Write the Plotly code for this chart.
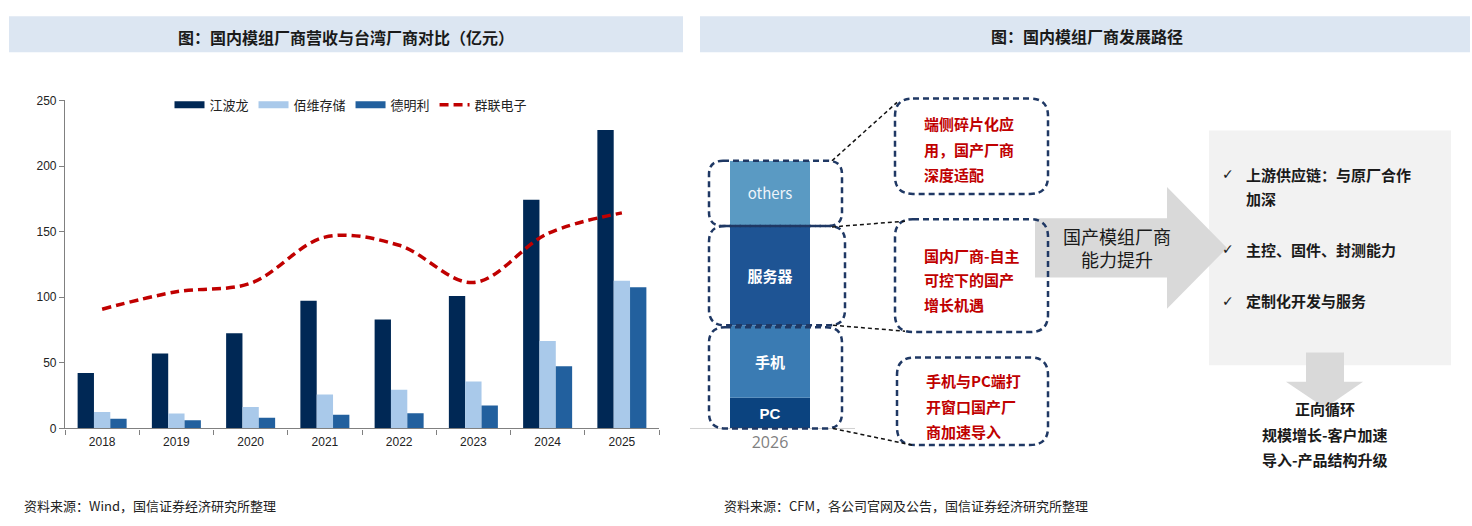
import plotly.graph_objects as go

# ---- data: left chart (亿元) ----
years = ["2018", "2019", "2020", "2021", "2022", "2023", "2024", "2025"]
jiangbolong = [42.2, 57.1, 72.6, 97.3, 83.0, 101.0, 174.4, 227.5]
baiwei = [12.6, 11.4, 16.3, 25.9, 29.6, 35.8, 66.7, 112.6]
demingli = [7.4, 6.2, 8.2, 10.4, 11.6, 17.5, 47.4, 107.7]
qunlian = [90.9, 104.2, 110.7, 145.8, 139.6, 111.2, 148.5, 164.3]

# ---- data: right diagram, 2026 mix (share, %) ----
mix_year = ["2026"]
mix_segments = ["PC", "手机", "服务器", "others"]
mix_share = [11.5, 27.0, 37.5, 24.0]

box_texts = [
    ["端侧碎片化应", "用，国产厂商", "深度适配"],
    ["国内厂商-自主", "可控下的国产", "增长机遇"],
    ["手机与PC端打", "开窗口国产厂", "商加速导入"],
]
checks = [("上游供应链：与原厂合作", True), ("加深", False),
          ("主控、固件、封测能力", True), ("定制化开发与服务", True)]
cycle_lines = ["正向循环", "规模增长-客户加速", "导入-产品结构升级"]

W, H = 1472, 526
CJK = "Noto Sans CJK SC"
NARROW = "Liberation Sans Narrow, Liberation Sans, sans-serif"


def px(x):
    return x / W


def py(y):
    return 1 - y / H


def rrect(x0, y0, x1, y1, r):
    pts = [
        ("M", [(x0 + r, y0)]), ("L", [(x1 - r, y0)]), ("Q", [(x1, y0), (x1, y0 + r)]),
        ("L", [(x1, y1 - r)]), ("Q", [(x1, y1), (x1 - r, y1)]), ("L", [(x0 + r, y1)]),
        ("Q", [(x0, y1), (x0, y1 - r)]), ("L", [(x0, y0 + r)]), ("Q", [(x0, y0), (x0 + r, y0)]),
    ]
    s = ""
    for cmd, ps in pts:
        s += cmd + " " + " ".join(f"{px(a):.5f},{py(b):.5f}" for a, b in ps) + " "
    return s + "Z"


def poly(points):
    return "M " + " L ".join(f"{px(a):.5f},{py(b):.5f}" for a, b in points) + " Z"


fig = go.Figure()

bar_specs = [
    ("江波龙", jiangbolong, "#002855", -0.33),
    ("佰维存储", baiwei, "#A9C9EA", -0.11),
    ("德明利", demingli, "#22609E", 0.11),
]
for name, vals, color, off in bar_specs:
    fig.add_trace(go.Bar(
        x=years, y=vals, name=name, marker=dict(color=color, line=dict(width=0)),
        width=0.22, offset=off, showlegend=False, legendgroup=name,
    ))
    # wide flat swatch for the legend, like the source
    fig.add_trace(go.Scatter(
        x=[None], y=[None], name=name, mode="lines", legendgroup=name,
        line=dict(color=color, width=7),
    ))

fig.add_trace(go.Scatter(
    x=years, y=qunlian, name="群联电子", mode="lines",
    line=dict(color="#C00000", width=3.5, dash="9px,5px", shape="spline", smoothing=1.0),
))

# 2026 stacked mix bar
mix_colors = ["#0B437F", "#3A7BB3", "#1E5494", "#5A9AC3"]
base = 0
for seg, val, col in zip(mix_segments, mix_share, mix_colors):
    is_cn = seg != "others"
    fig.add_trace(go.Bar(
        x=mix_year, y=[val], base=[base], xaxis="x2", yaxis="y2", showlegend=False,
        marker=dict(color=col, line=dict(width=0)), width=1, offset=-0.5,
        text=[f"<b>{seg}</b>" if is_cn else seg], textposition="inside",
        insidetextanchor="middle", textangle=0,
        insidetextfont=dict(color="white" if is_cn else "#EEF4FA", size=15,
                            family=CJK if seg != "PC" else "Liberation Sans, sans-serif"),
        hoverinfo="skip",
    ))
    base += val

shapes = []
# header bands
shapes.append(dict(type="rect", xref="paper", yref="paper", x0=px(9), x1=px(683),
                   y0=py(46.5), y1=py(9.5), fillcolor="#DCE6F2", line=dict(width=0), layer="below"))
shapes.append(dict(type="rect", xref="paper", yref="paper", x0=px(700), x1=px(1470),
                   y0=py(46.5), y1=py(9.5), fillcolor="#DCE6F2", line=dict(width=0), layer="below"))
# baseline under 2026 bar
shapes.append(dict(type="line", xref="paper", yref="paper", x0=px(690), x1=px(855),
                   y0=py(433), y1=py(433), line=dict(color="#D0D0D0", width=1)))
# grey capability box
shapes.append(dict(type="rect", xref="paper", yref="paper", x0=px(1209), x1=px(1451),
                   y0=py(368), y1=py(127), fillcolor="#F2F2F2", line=dict(width=0)))
# big right arrow
shapes.append(dict(type="path", xref="paper", yref="paper", fillcolor="#D9D9D9", line=dict(width=0),
                   path=poly([(1035, 217), (1167, 217), (1167, 185), (1227, 247.5),
                              (1167, 310), (1167, 278), (1035, 278)])))
# down arrow
shapes.append(dict(type="path", xref="paper", yref="paper", fillcolor="#D9D9D9", line=dict(width=0),
                   path=poly([(1306, 355), (1344, 355), (1344, 385), (1363, 385),
                              (1325, 412), (1286, 385), (1306, 385)])))
# dashed rounded boxes around segments and text
navy = "#1F3864"
for x0, y0, x1, y1, r in [(709, 158, 842, 225, 14), (709, 225, 845, 327, 16), (709, 329, 842, 433, 16),
                          (895, 94, 1048, 192, 18), (895, 218, 1048, 334, 18), (897, 360, 1048, 450, 18)]:
    shapes.append(dict(type="path", xref="paper", yref="paper", path=rrect(x0, y0, x1, y1, r),
                       line=dict(color=navy, width=2.5, dash="6px,4px")))
# connectors
for (a, b), (c, d) in [((832, 158), (897, 98)), ((832, 226), (905, 220)),
                       ((833, 327), (905, 333)), ((833, 433), (912, 450))]:
    shapes.append(dict(type="line", xref="paper", yref="paper", x0=px(a), y0=py(b), x1=px(c), y1=py(d),
                       line=dict(color="#111111", width=1.5, dash="4px,3px")))

annotations = []


def note(x, y, text, size=14, color="#1a1a1a", anchor="center", bold=False, family=CJK):
    annotations.append(dict(
        xref="paper", yref="paper", x=px(x), y=py(y), xanchor=anchor, yanchor="middle",
        text=f"<b>{text}</b>" if bold else text, showarrow=False,
        font=dict(size=size, color=color, family=family),
    ))


note(346, 31, "图：国内模组厂商营收与台湾厂商对比（亿元）", size=16, bold=True)
note(1087, 30, "图：国内模组厂商发展路径", size=16, bold=True)
note(22, 512, "资料来源：Wind，国信证券经济研究所整理", size=13, anchor="left", color="#222222")
note(722, 512, "资料来源：CFM，各公司官网及公告，国信证券经济研究所整理", size=13, anchor="left", color="#222222")

for lines, x, ys in zip(box_texts, [922, 922, 924], [[120, 146, 172], [255, 280, 306], [384, 410, 436]]):
    for t, y in zip(lines, ys):
        note(x, y, t, size=15, color="#C00000", anchor="left", bold=True)

note(1117, 247, "国产模组厂商<br>能力提升", size=18, color="#1a1a1a")

for (t, mark), y in zip(checks, [172, 197, 249, 302]):
    if mark:
        note(1228, y, "✓", size=14, color="#1a1a1a", family="DejaVu Sans")
    note(1244, y, t, size=15, anchor="left", bold=True)

for t, y in zip(cycle_lines, [412, 439, 465]):
    note(1325, y, t, size=15, bold=True)

fig.update_layout(
    width=W, height=H, margin=dict(l=0, r=0, t=0, b=0),
    paper_bgcolor="white", plot_bgcolor="rgba(0,0,0,0)",
    barmode="overlay", showlegend=True,
    font=dict(family=CJK, color="#1a1a1a"),
    legend=dict(orientation="h", x=px(351), y=py(100.5), xanchor="center", yanchor="middle",
                font=dict(size=13, family=CJK, color="#222222"), itemwidth=30,
                bgcolor="rgba(0,0,0,0)", tracegroupgap=0),
    xaxis=dict(domain=[px(65), px(659)], range=[-0.5, 7.5], type="category",
               showline=True, linecolor="#808080", linewidth=1.2, ticks="outside",
               tickson="boundaries", ticklen=5, tickcolor="#808080", ticklabelstandoff=2,
               tickfont=dict(size=12, family=NARROW, color="#222222"), showgrid=False),
    yaxis=dict(domain=[py(433), py(96)], range=[0, 250], tickvals=[0, 50, 100, 150, 200, 250],
               showline=True, linecolor="#808080", linewidth=1.2, ticks="outside", ticklen=5,
               tickcolor="#808080", showgrid=False, zeroline=False,
               tickfont=dict(size=12, family=NARROW, color="#222222")),
    xaxis2=dict(domain=[px(730), px(810)], range=[-0.5, 0.5], type="category", anchor="y2",
                showline=False, showgrid=False, ticks="", ticklabelstandoff=3,
                tickfont=dict(size=16, color="#7F7F7F", family="Open Sans, sans-serif")),
    yaxis2=dict(domain=[py(433), py(158)], range=[0, 100], anchor="x2", visible=False),
    shapes=shapes, annotations=annotations,
)

page_fix = (
    "document.body.style.margin='0';"
    "var d=document.getElementById('{plot_id}');"
    "d.style.position='fixed';d.style.top='0';d.style.left='0';"
)
fig.write_html("out.html", config={"displayModeBar": False}, post_script=page_fix)
